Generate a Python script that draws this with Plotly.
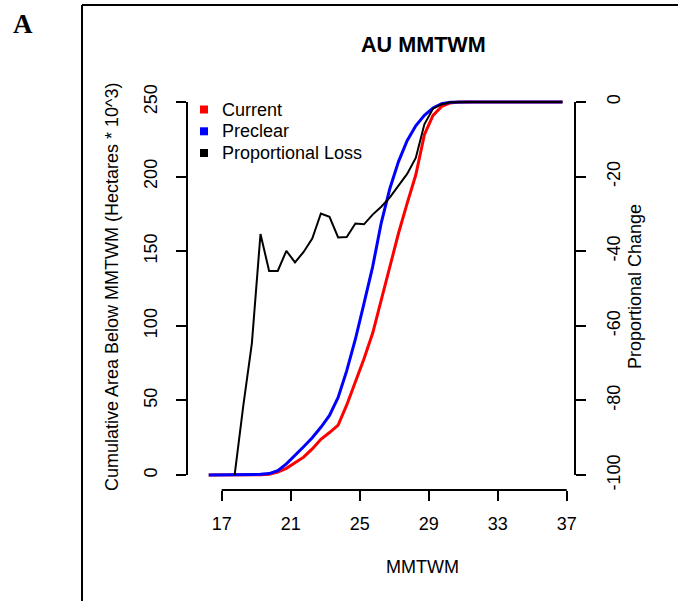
import plotly.graph_objects as go

# ---- data ----
mmtwm = [16.25, 16.75, 17.25, 17.75, 18.25, 18.75, 19.25, 19.75, 20.25, 20.75,
         21.25, 21.75, 22.25, 22.75, 23.25, 23.75, 24.25, 24.75, 25.25, 25.75,
         26.25, 26.75, 27.25, 27.75, 28.25, 28.75, 29.25, 29.75, 30.25, 30.75,
         31.25, 31.75, 32.25, 32.75, 33.25, 33.75, 34.25, 34.75, 35.25, 35.75,
         36.25, 36.75]

current = [0, 0, 0, 0, 0.02, 0.1, 0.2, 0.6, 2, 4.5,
           8, 12, 17.5, 24, 28.5, 33.5, 47, 62.5, 78, 95,
           117, 140.5, 162, 182, 201, 228, 241, 247, 249.3, 249.9,
           250, 250, 250, 250, 250, 250, 250, 250, 250, 250,
           250, 250]

preclear = [0, 0, 0, 0.05, 0.1, 0.2, 0.5, 1, 3, 7.5,
            13, 19, 25, 32, 40, 52, 70, 91, 115, 139.5,
            169, 192, 210, 224, 234, 241, 246, 248.8, 249.7, 250,
            250, 250, 250, 250, 250, 250, 250, 250, 250, 250,
            250, 250]

prop_loss = [None, None, None, -100, -81.5, -64.7, -35.4, -45.3, -45.3, -39.9,
             -43.0, -40.2, -36.6, -29.9, -30.8, -36.3, -36.2, -32.6, -32.8, -30.2,
             -28.1, -25.6, -22.5, -19.3, -15.0, -6.0, -1.8, -0.6, -0.1, 0,
             0, 0, 0, 0, 0, 0, 0, 0, 0, 0,
             0, 0]

x_ticks = [17, 21, 25, 29, 33, 37]
y_ticks = [0, 50, 100, 150, 200, 250]
y2_ticks = [0, -20, -40, -60, -80, -100]

series_names = ["Current", "Preclear", "Proportional Loss"]
series_colors = ["#FF0000", "#0000FF", "#000000"]

FONT = "Liberation Sans, Arial, sans-serif"

W, H = 678, 601
L, R, T, B = 187, 103, 87, 111
PW, PH = W - L - R, H - T - B


def px_x(p):
    return (p - L) / PW


def px_y(p):
    return (H - B - p) / PH


fig = go.Figure()

fig.add_trace(go.Scatter(x=mmtwm, y=current, mode="lines", name=series_names[0],
                         line=dict(color=series_colors[0], width=3),
                         showlegend=False, hoverinfo="skip"))
fig.add_trace(go.Scatter(x=mmtwm, y=preclear, mode="lines", name=series_names[1],
                         line=dict(color=series_colors[1], width=3),
                         showlegend=False, hoverinfo="skip"))
fig.add_trace(go.Scatter(x=mmtwm, y=prop_loss, mode="lines", yaxis="y2", name=series_names[2],
                         line=dict(color=series_colors[2], width=2),
                         connectgaps=False, showlegend=False, hoverinfo="skip"))

axis_common = dict(showgrid=False, zeroline=False, showline=False,
                   ticks="outside", ticklen=10, tickwidth=2, tickcolor="black",
                   tickfont=dict(family=FONT, size=18, color="black"))

fig.update_layout(
    width=W, height=H,
    margin=dict(l=L, r=R, t=T, b=B, pad=0),
    paper_bgcolor="white", plot_bgcolor="white",
    font=dict(family=FONT, size=18, color="black"),
    xaxis=dict(range=[14.99, 37.48], tickvals=x_ticks, ticktext=[str(v) for v in x_ticks],
               ticklabelstandoff=7, **axis_common),
    yaxis=dict(range=[-10, 260], tickvals=y_ticks, ticktext=[str(v) for v in y_ticks],
               tickangle=-90, ticklabelstandoff=12, **axis_common),
    yaxis2=dict(range=[-104, 4], overlaying="y", side="right", anchor="x",
                tickvals=y2_ticks, ticktext=[str(v) for v in y2_ticks],
                tickangle=-90, ticklabelstandoff=12, **axis_common),
    showlegend=False,
)

shapes = []
# axis lines spanning first to last tick (R style)
shapes.append(dict(type="line", xref="x", yref="paper", x0=x_ticks[0], x1=x_ticks[-1],
                   y0=0, y1=0, line=dict(color="black", width=2)))
shapes.append(dict(type="line", xref="paper", yref="y", x0=0, x1=0,
                   y0=y_ticks[0], y1=y_ticks[-1], line=dict(color="black", width=2)))
shapes.append(dict(type="line", xref="paper", yref="y2", x0=1, x1=1,
                   y0=y2_ticks[-1], y1=y2_ticks[0], line=dict(color="black", width=2)))
# outer figure box (partially visible)
shapes.append(dict(type="line", xref="paper", yref="paper", x0=px_x(82), x1=px_x(690),
                   y0=px_y(5), y1=px_y(5), line=dict(color="black", width=2)))
shapes.append(dict(type="line", xref="paper", yref="paper", x0=px_x(82), x1=px_x(82),
                   y0=px_y(5), y1=px_y(610), line=dict(color="black", width=2)))

annotations = [
    dict(text="<b>AU MMTWM</b>", x=px_x(423), y=px_y(45), xref="paper", yref="paper",
         xanchor="center", yanchor="middle", showarrow=False,
         font=dict(family=FONT, size=21.6, color="black")),
    dict(text="<b>A</b>", x=px_x(22.5), y=px_y(24), xref="paper", yref="paper",
         xanchor="center", yanchor="middle", showarrow=False,
         font=dict(family="Liberation Serif, Times New Roman, serif", size=27, color="black")),
    dict(text="MMTWM", x=px_x(422), y=px_y(567), xref="paper", yref="paper",
         xanchor="center", yanchor="middle", showarrow=False,
         font=dict(family=FONT, size=18, color="black")),
    dict(text="Cumulative Area Below MMTWM (Hectares * 10^3)", x=px_x(112), y=px_y(287),
         xref="paper", yref="paper", xanchor="center", yanchor="middle", textangle=-90,
         showarrow=False, font=dict(family=FONT, size=18, color="black")),
    dict(text="Proportional Change", x=px_x(635), y=px_y(287),
         xref="paper", yref="paper", xanchor="center", yanchor="middle", textangle=-90,
         showarrow=False, font=dict(family=FONT, size=18, color="black")),
]

# legend (R style: filled squares + labels)
legend_rows_px = [109.5, 131.3, 153.0]
for name, col, ypx in zip(series_names, series_colors, legend_rows_px):
    shapes.append(dict(type="rect", xref="paper", yref="paper",
                       x0=px_x(200), x1=px_x(208), y0=px_y(ypx - 4), y1=px_y(ypx + 4),
                       fillcolor=col, line=dict(width=0)))
    annotations.append(dict(text=name, x=px_x(219.5), y=px_y(ypx), xref="paper", yref="paper",
                            xanchor="left", yanchor="middle", showarrow=False,
                            font=dict(family=FONT, size=18, color="black")))

fig.update_layout(shapes=shapes, annotations=annotations)

fig.write_html("out.html")
